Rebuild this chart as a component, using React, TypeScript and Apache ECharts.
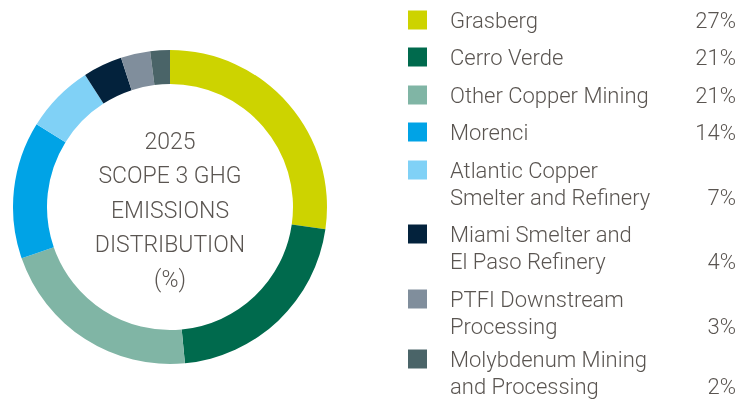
import React, { useEffect, useRef } from "react";
import * as echarts from "echarts";

const names = [
  "Grasberg",
  "Cerro Verde",
  "Other Copper Mining",
  "Morenci",
  "Atlantic Copper\nSmelter and Refinery",
  "Miami Smelter and\nEl Paso Refinery",
  "PTFI Downstream\nProcessing",
  "Molybdenum Mining\nand Processing",
];
const values = [27, 21, 21, 14, 7, 4, 3, 2];
const colors = ["#cdd300", "#006a4d", "#80b5a5", "#00a3e6", "#80d1f6", "#03223c", "#808e9c", "#4a6468"];
const centerLines = ["2025", "SCOPE 3 GHG", "EMISSIONS", "DISTRIBUTION", "(%)"];

const TEXT = "#5a5551";
const FONT = "Roboto";

export default function App() {
  const ref = useRef<HTMLDivElement>(null);
  useEffect(() => {
    if (!ref.current) return;
    const chart = echarts.init(ref.current, undefined, { renderer: "svg" });
    const rowTops = [20, 57, 95, 132, 170, 234, 299, 359];
    const lh = 27;
    const legend: any[] = [];
    names.forEach((n, i) => {
      const y = rowTops[i];
      const lines = n.split("\n");
      legend.push({
        type: "rect",
        shape: { x: 408, y: y - 9.5, width: 19, height: 19 },
        style: { fill: colors[i] },
      });
      lines.forEach((l, j) => {
        legend.push({
          type: "text",
          x: 450,
          y: y + j * lh,
          style: { text: l, fill: TEXT, font: `300 22px ${FONT}`, textVerticalAlign: "middle", textAlign: "left" },
        });
      });
      legend.push({
        type: "text",
        x: 736,
        y: y + (lines.length - 1) * lh,
        style: { text: values[i] + "%", fill: TEXT, font: `300 22px ${FONT}`, textVerticalAlign: "middle", textAlign: "right" },
      });
    });
    const center = centerLines.map((t, i) => ({
      type: "text",
      x: 170,
      y: 141 + i * 34.5,
      style: { text: t, fill: TEXT, font: `300 23px ${FONT}`, textAlign: "center", textVerticalAlign: "middle" },
    }));
    chart.setOption({
      animation: false,
      series: [
        {
          type: "pie",
          center: [170, 207],
          radius: [123, 157],
          startAngle: 90,
          clockwise: true,
          label: { show: false },
          labelLine: { show: false },
          silent: true,
          itemStyle: { borderWidth: 0 },
          data: names.map((n, i) => ({ name: n, value: values[i], itemStyle: { color: colors[i] } })),
        },
      ],
      graphic: [...legend, ...center],
    });
    return () => chart.dispose();
  }, []);
  return <div ref={ref} style={{ position: "fixed", left: 0, top: 0, width: 738, height: 403 }} />;
}
